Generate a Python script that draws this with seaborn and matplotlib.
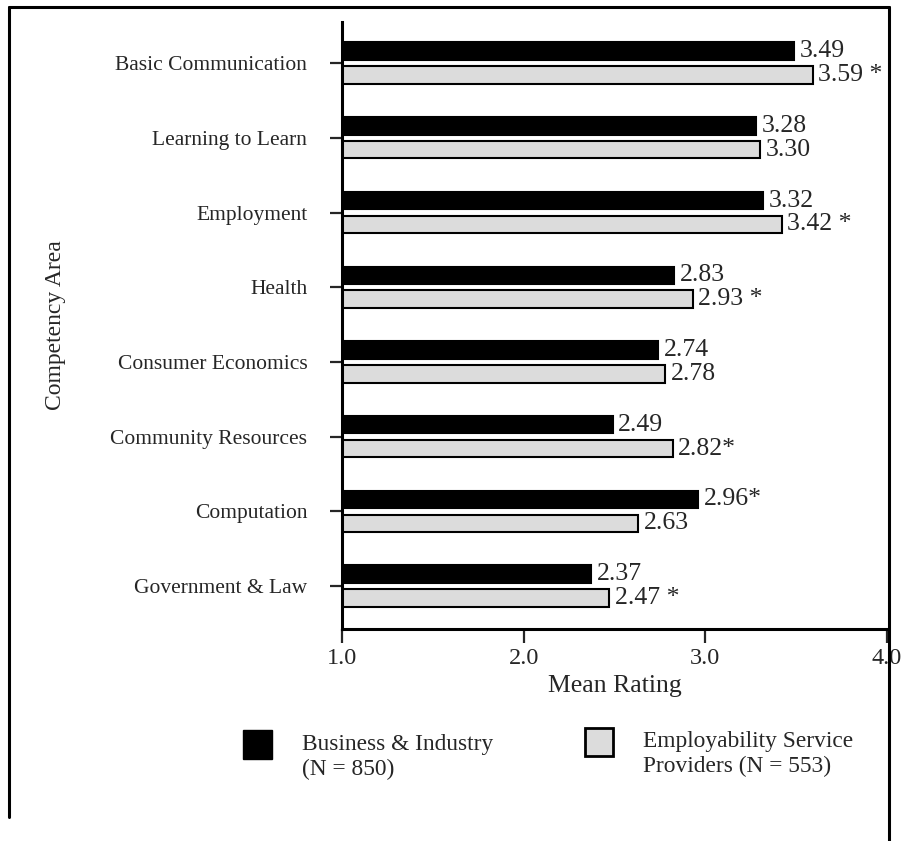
import pandas as pd
import matplotlib.pyplot as plt
import seaborn as sns
from matplotlib.patches import Rectangle
from matplotlib.lines import Line2D

# =============================================================================
# COMPETENCY AREA MEAN RATINGS - GROUPED HORIZONTAL BAR CHART
# =============================================================================

areas = ['Basic Communication', 'Learning to Learn', 'Employment', 'Health',
         'Consumer Economics', 'Community Resources', 'Computation',
         'Government & Law']
business = [3.49, 3.28, 3.32, 2.83, 2.74, 2.49, 2.96, 2.37]
providers = [3.59, 3.30, 3.42, 2.93, 2.78, 2.82, 2.63, 2.47]
# significance markers written after the value labels
business_marks = ['', '', '', '', '', '', '*', '']
provider_marks = [' *', '', ' *', ' *', '', '*', '', ' *']

groups = ['Business & Industry', 'Employability Service Providers']
legend_labels = ['Business & Industry\n(N = 850)',
                 'Employability Service\nProviders (N = 553)']
colors = {groups[0]: 'black', groups[1]: '#dcdcdc'}

df = pd.DataFrame({
    'area': areas * 2,
    'rating': business + providers,
    'group': [groups[0]] * len(areas) + [groups[1]] * len(areas),
})

sns.set_theme(style='white')
plt.rcParams['font.family'] = ['Liberation Serif', 'DejaVu Serif']

W, H = 901, 841
fig = plt.figure(figsize=(W / 100, H / 100), dpi=100)
ax = fig.add_axes([342 / W, 1 - 629 / H, 545 / W, 607 / H])

sns.barplot(data=df, x='rating', y='area', hue='group', order=areas,
            hue_order=groups, palette=colors, width=0.64, gap=0.27,
            edgecolor='black', linewidth=1.5, legend=False, ax=ax)

# value labels
for cont, vals, marks in zip(ax.containers, [business, providers],
                             [business_marks, provider_marks]):
    ax.bar_label(cont, labels=[f'{v:.2f}{m}' for v, m in zip(vals, marks)],
                 padding=4, fontsize=18.5)

ax.set_xlim(1.0, 4.0)
ax.set_ylim(len(areas) - 1 + 0.575, -0.55)
ax.set_xticks([1.0, 2.0, 3.0, 4.0])
ax.set_xticklabels(['1.0', '2.0', '3.0', '4.0'], fontsize=17.5)
ax.set_yticks(range(len(areas)))
ax.set_yticklabels(areas, fontsize=15.5)
ax.tick_params(axis='y', direction='out', length=9, width=1.6, pad=16, left=True)
ax.tick_params(axis='x', direction='out', length=10, width=1.6, pad=4, bottom=True)
ax.set_xlabel('Mean Rating', fontsize=18.5, labelpad=4)
ax.set_ylabel('')

for side in ['top', 'right']:
    ax.spines[side].set_visible(False)
for side in ['left', 'bottom']:
    ax.spines[side].set_linewidth(2.2)
    ax.spines[side].set_color('black')

fig.text(56 / W, 1 - 325 / H, 'Competency Area', rotation=90,
         ha='center', va='center', fontsize=17)

# legend drawn by hand to follow the original layout
fig.add_artist(Rectangle((243 / W, 1 - 759 / H), 29 / W, 29 / H,
                         transform=fig.transFigure, facecolor='black',
                         edgecolor='black', linewidth=1))
fig.add_artist(Rectangle((585 / W, 1 - 756 / H), 28 / W, 28 / H,
                         transform=fig.transFigure, facecolor='#dcdcdc',
                         edgecolor='black', linewidth=2))
fig.text(302 / W, 1 - 757 / H, legend_labels[0], ha='left', va='center',
         fontsize=16.8, linespacing=1.25)
fig.text(643 / W, 1 - 754 / H, legend_labels[1], ha='left', va='center',
         fontsize=16.8, linespacing=1.25)

# outer frame (open at the bottom)
frame_kw = dict(transform=fig.transFigure, color='black', linewidth=2.2)
fig.add_artist(Line2D([9 / W, 9 / W], [1 - 817 / H, 1 - 7 / H], **frame_kw))
fig.add_artist(Line2D([9 / W, 889 / W], [1 - 7 / H, 1 - 7 / H], **frame_kw))
fig.add_artist(Line2D([889 / W, 889 / W], [0, 1 - 7 / H], **frame_kw))

plt.savefig('out.png', dpi=100)
